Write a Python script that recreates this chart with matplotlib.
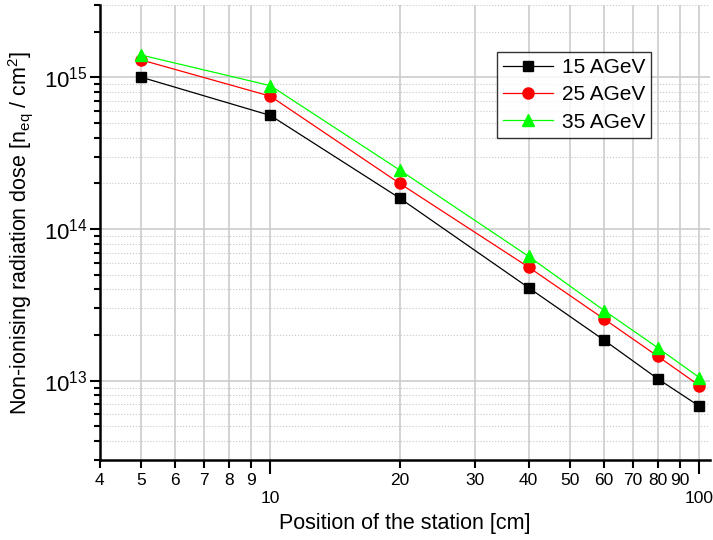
import numpy as np
import matplotlib
matplotlib.use("Agg")
from matplotlib import pyplot as plt
from matplotlib.ticker import FixedLocator, NullFormatter, LogLocator

plt.rcParams['font.family'] = ['Liberation Sans', 'DejaVu Sans']

position = [5, 10, 20, 40, 60, 80, 100]
dose_15 = [1.0e15, 5.6e14, 1.6e14, 4.1e13, 1.85e13, 1.03e13, 6.8e12]
dose_25 = [1.3e15, 7.5e14, 2.0e14, 5.6e13, 2.55e13, 1.45e13, 9.3e12]
dose_35 = [1.4e15, 8.8e14, 2.45e14, 6.6e13, 2.9e13, 1.65e13, 1.05e13]

series = [("15 AGeV", dose_15, "black", "s", 7.5),
          ("25 AGeV", dose_25, "red", "o", 8),
          ("35 AGeV", dose_35, "#00ff00", "^", 9)]

fig = plt.figure(figsize=(7.13, 5.4), dpi=100)
ax = fig.add_axes([0.140, 0.148, 0.856, 0.843])

for name, vals, c, m, ms in series:
    ax.plot(position, vals, color=c, marker=m, markersize=ms, lw=0.9, label=name,
            markeredgecolor=c, zorder=3)

ax.set_xscale("log")
ax.set_yscale("log")
ax.set_xlim(4, 106)
ax.set_ylim(3e12, 3e15)

# x ticks: 10 and 100 are majors (labels drawn lower)
ax.xaxis.set_major_locator(FixedLocator([10, 100]))
minor_x = [4, 5, 6, 7, 8, 9, 20, 30, 40, 50, 60, 70, 80, 90]
ax.xaxis.set_minor_locator(FixedLocator(minor_x))
ax.set_xticklabels(["10", "100"])
ax.set_xticklabels([str(v) for v in minor_x], minor=True)
ax.tick_params(axis="x", which="major", direction="out", length=10, width=1.5, pad=12, labelsize=12.5)
ax.tick_params(axis="x", which="minor", direction="out", length=6, width=1.5, pad=3, labelsize=12.5)

ax.yaxis.set_major_locator(LogLocator(base=10, numticks=10))
ax.yaxis.set_minor_locator(LogLocator(base=10, subs=np.arange(2, 10), numticks=10))
ax.yaxis.set_minor_formatter(NullFormatter())
ax.tick_params(axis="y", which="major", direction="out", length=7, width=1.5, pad=2, labelsize=16)
ax.tick_params(axis="y", which="minor", direction="out", length=4, width=1.5)

# grid
ax.grid(True, axis="x", which="both", color="#cccccc", lw=1.2, ls="-")
ax.grid(True, axis="y", which="major", color="#cccccc", lw=1.2, ls="-")
ax.grid(True, axis="y", which="minor", color="#c8c8c8", lw=0.8, ls=":")
ax.set_axisbelow(True)

for s in ["top", "right"]:
    ax.spines[s].set_visible(False)
for s in ["left", "bottom"]:
    ax.spines[s].set_linewidth(1.8)

ax.set_xlabel("Position of the station [cm]", fontsize=15.5, labelpad=5)
ax.set_ylabel(r"Non-ionising radiation dose [n$_{\mathregular{eq}}$ / cm$^{\mathregular{2}}$]", fontsize=15.5, labelpad=6)

leg = ax.legend(loc="upper left", bbox_to_anchor=(0.651, 0.897), fontsize=15, frameon=True,
                fancybox=False, edgecolor="black", handlelength=2.4, borderpad=0.3,
                labelspacing=0.4, handletextpad=0.4, borderaxespad=0)
leg.get_frame().set_linewidth(1.0)

fig.savefig("out.png", dpi=100)
